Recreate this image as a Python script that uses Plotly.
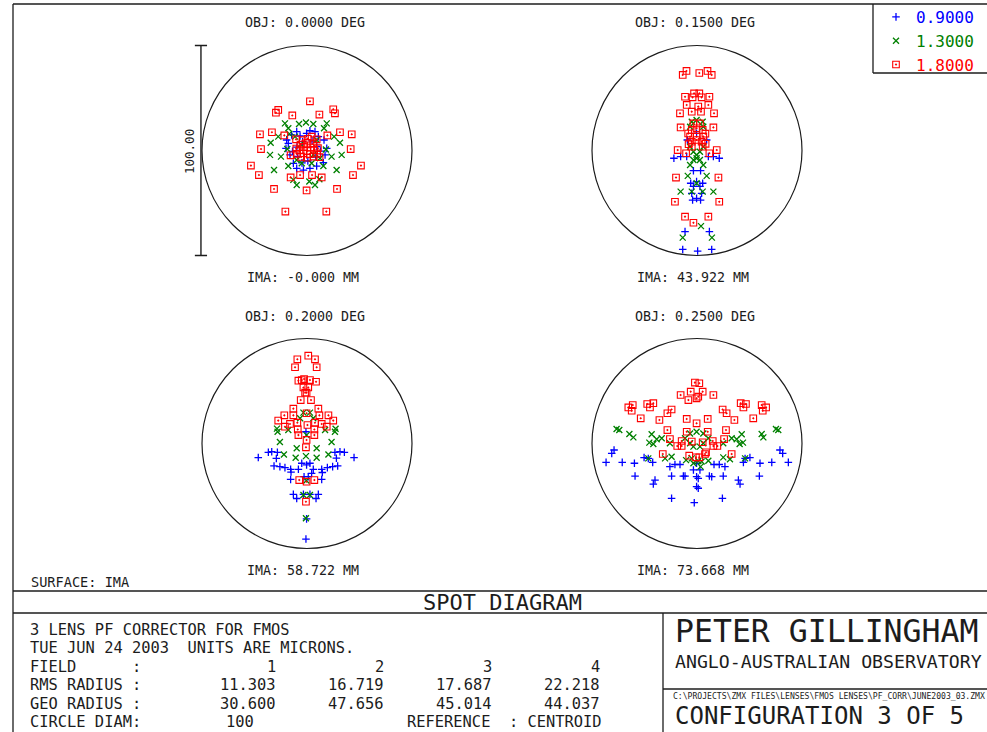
import plotly.graph_objects as go

# ---------------------------------------------------------------- data
WAVELENGTHS = [0.9, 1.3, 1.8]          # microns
FIELD_ANGLES = [0.0, 0.15, 0.20, 0.25]  # degrees
IMAGE_HEIGHTS = [-0.0, 43.922, 58.722, 73.668]  # mm
FIELD_NUMBERS = [1, 2, 3, 4]
RMS_RADIUS = [11.303, 16.719, 17.687, 22.218]
GEO_RADIUS = [30.600, 47.656, 45.014, 44.037]
CIRCLE_DIAM = 100

# spot positions relative to the centroid, microns (x, y)
f1_blue = [(-4.9, 9.0), (1.4, 9.4), (3.8, 9.0), (-7.3, 7.4), (-9.7, 5.0), (8.1, 5.0), (-10.0, 1.0),
           (9.4, 1.0), (-8.1, -2.1), (8.6, -2.1), (-4.9, -8.5), (-1.7, -9.3), (1.4, -8.5), (4.6, -7.4),
           (7.8, -5.8), (-6.5, -6.1), (5.4, 6.6), (-3.3, 6.9), (-0.2, 8.2), (-8.9, 3.4), (-2.1, 4.2),
           (2.4, 4.6), (-4.8, 1.6), (4.7, 1.9), (-4.5, -2.8), (4.2, -3.1), (0.4, -5.0), (-2.4, -5.9),
           (6.4, -0.3), (-6.9, -0.4)]
f1_green = [(-10.5, 12.9), (-8.9, 10.6), (-3.8, 12.6), (-0.5, 13.3), (3.0, 12.6), (9.4, 12.9), (8.1, 10.6),
            (-13.7, 6.6), (-8.4, 7.9), (12.9, 6.6), (15.7, 3.7), (-17.3, 3.7), (-17.6, -2.1), (-12.4, -2.9),
            (11.7, -2.9), (16.5, -2.1), (-15.7, -9.3), (-8.9, -7.4), (7.8, -7.4), (14.1, -9.3), (-4.9, -16.4),
            (-6.5, -14.0), (1.1, -14.8), (3.8, -16.4), (5.9, -13.7), (-5.7, 6.6), (4.6, 5.0), (-4.9, -4.5),
            (6.2, -3.7), (-2.5, -6.1), (2.2, -6.1), (-9.4, 0.7), (9.0, 0.5), (-3.0, 3.0), (3.0, -2.0)]
f1_red = [(1.4, 23.4), (-13.7, 19.3), (-14.8, 18.0), (-7.0, 16.7), (5.9, 17.1), (12.5, 19.6), (13.3, 17.7),
          (-22.4, 7.7), (-16.7, 8.7), (-10.8, 7.2), (9.7, 7.2), (15.7, 8.7), (21.3, 7.7), (-21.9, 0.7),
          (20.8, 0.7), (-26.7, -7.2), (25.7, -7.2), (-22.9, -11.7), (-7.8, -12.8), (-3.3, -11.7), (2.4, -11.7),
          (7.0, -12.8), (21.9, -11.7), (-15.7, -18.3), (-0.2, -19.0), (14.3, -18.3), (-10.3, -29.1), (9.2, -29.1),
          (-7.8, -2.3), (6.0, -3.2), (-5.2, 5.3), (4.6, 5.3), (2.2, 6.6), (-3.1, 2.8), (0.2, 3.6), (2.9, 3.1),
          (-3.6, 0.2), (0.1, -0.2), (3.4, 0.3), (-2.8, -3.1), (-0.1, -3.4), (3.2, -2.9), (-1.4, 1.6), (1.6, 1.4),
          (-1.6, -1.3), (1.3, -1.7), (-5.1, 0.9), (5.2, 1.1), (-4.9, -1.6), (4.8, -1.4), (0.3, 5.6), (-2.1, 4.9)]

f2_blue = [(-0.2, 8.2), (-4.6, 5.0), (4.6, 5.0), (-11.0, -3.7), (-7.8, -2.9), (-4.9, -2.9), (5.4, -2.9),
           (7.8, -2.9), (10.6, -3.7), (-1.7, -9.6), (1.7, -9.6), (-3.0, -15.6), (-0.2, -14.8), (2.7, -15.6),
           (-1.7, -17.1), (1.4, -17.1), (-2.1, -23.6), (-0.2, -22.8), (1.7, -23.6), (-5.7, -38.6), (5.9, -38.6),
           (-6.8, -47.1), (0.3, -47.9), (7.0, -47.1), (-2.5, -20.4), (2.2, -20.4)]
f2_green = [(-2.5, 13.7), (-0.2, 14.5), (2.7, 13.7), (-3.3, 11.3), (3.0, 11.3), (-3.3, 1.8), (3.0, 1.8),
            (-1.7, -0.6), (1.4, -0.6), (-0.2, -3.7), (-1.7, -4.5), (1.4, -4.5), (-3.3, -6.9), (3.0, -6.9),
            (-0.2, -2.1), (-4.4, -12.1), (4.6, -12.1), (-7.8, -19.6), (-2.5, -19.6), (2.7, -19.6), (7.8, -19.6),
            (1.9, -36.0), (-6.8, -41.5), (7.1, -41.5), (-0.2, -15.6)]
f2_red = [(-6.8, 36.0), (-5.0, 37.9), (1.1, 36.9), (5.0, 37.9), (7.0, 36.0), (-5.7, 25.6), (-1.4, 27.2),
          (1.1, 27.2), (-2.1, 25.3), (2.2, 25.3), (5.9, 25.6), (-4.9, 21.7), (0.6, 20.9), (5.4, 21.7),
          (-8.1, 17.7), (-2.5, 18.5), (1.9, 18.5), (8.1, 17.7), (-7.8, 11.0), (7.8, 11.0), (-1.7, 12.9),
          (1.4, 12.9), (-2.5, 9.8), (-0.2, 10.6), (2.7, 9.8), (-3.3, 6.6), (-0.2, 6.6), (3.0, 6.6), (-2.5, 4.2),
          (-0.2, 5.0), (2.2, 4.2), (-2.5, 1.8), (2.7, 1.8), (-9.2, 0.2), (9.4, 0.2), (-5.2, -1.3), (5.9, -1.3),
          (-10.0, -12.9), (10.2, -12.9), (-10.5, -24.4), (10.6, -24.4), (-5.7, -31.5), (5.4, -31.5),
          (-1.7, -34.4), (-4.2, 8.1), (4.0, 8.0), (-4.0, 3.0), (4.1, 3.2)]

f3_blue = [(-23.2, -6.7), (22.4, -6.7), (-18.4, -4.2), (-16.8, -3.9), (-14.1, -4.2), (13.3, -4.2), (15.7, -3.9),
           (17.8, -4.2), (-15.7, -10.7), (-12.9, -11.0), (-10.5, -11.5), (-7.8, -12.3), (-4.1, -12.3),
           (-0.2, -10.2), (3.0, -12.3), (7.0, -12.3), (9.7, -11.5), (12.2, -11.0), (14.6, -10.7), (-7.8, -17.1),
           (-1.4, -15.8), (0.6, -15.8), (7.0, -17.1), (-6.5, -24.2), (-4.9, -26.2), (-1.7, -24.2), (1.4, -24.2),
           (5.4, -24.2), (4.3, -26.2), (-0.2, -35.9), (-0.5, -45.5), (-0.5, 5.6), (-2.5, -9.4), (1.4, -9.4),
           (2.2, -14.2), (-14.6, -7.1), (14.0, -7.0), (-7.6, -13.6), (7.3, -13.8)]
f3_green = [(-1.7, 14.7), (1.4, 14.7), (-3.3, 12.0), (3.0, 12.0), (-14.0, 5.6), (13.3, 5.6), (-8.9, 6.4),
            (8.6, 6.4), (-12.9, 0.7), (11.7, 0.7), (-11.0, -5.2), (10.2, -5.2), (-5.4, -6.8), (-0.5, -6.0),
            (4.6, -6.8), (-1.7, -24.5), (1.4, -24.5), (-0.5, -35.6), (-4.9, -2.3), (4.6, -2.3), (-0.2, 4.0),
            (-14.3, 7.1), (13.6, 7.0), (-0.3, -17.6)]
f3_red = [(-4.6, 40.1), (0.6, 41.8), (3.8, 40.1), (-5.7, 36.3), (4.6, 36.3), (-4.1, 29.9), (-1.4, 30.7),
          (1.4, 30.2), (4.3, 29.4), (-2.5, 30.2), (-1.7, 26.7), (0.6, 26.7), (-0.9, 24.2), (-0.2, 24.2),
          (-3.0, 20.7), (1.9, 20.7), (-6.5, 16.6), (5.4, 16.6), (-10.8, 13.4), (-6.5, 13.4), (5.9, 13.4),
          (10.2, 13.4), (-13.7, 10.9), (-10.5, 8.0), (-8.1, 9.3), (-4.6, 9.9), (3.8, 9.9), (7.0, 9.3), (9.4, 8.0),
          (12.5, 10.9), (-0.2, 14.4), (0.2, 8.8), (-4.4, 6.7), (3.5, 6.7), (-4.1, 4.0), (3.5, 4.0), (-0.2, 1.7),
          (-0.5, -1.8), (-3.7, -17.4), (-0.2, -18.2), (3.5, -17.4), (-0.5, -27.7)]

f4_blue = [(-39.5, -3.1), (-40.6, -4.7), (39.5, -3.1), (40.8, -4.7), (-43.3, -9.0), (-35.6, -9.0), (-29.8, -9.4),
           (-25.2, -6.7), (-23.2, -7.1), (-21.1, -9.0), (43.5, -9.0), (35.6, -9.0), (30.0, -9.4), (25.2, -6.7),
           (22.9, -7.1), (22.1, -9.0), (-12.9, -11.0), (-10.5, -10.0), (-8.1, -10.0), (8.1, -10.0), (10.6, -10.0),
           (13.3, -11.0), (-29.5, -15.5), (-20.0, -17.4), (-20.8, -19.3), (-12.1, -15.5), (-6.5, -15.5),
           (-5.7, -15.5), (-0.2, -15.8), (0.6, -16.6), (5.9, -15.5), (7.0, -15.8), (12.5, -15.5), (19.7, -17.4),
           (20.5, -19.3), (29.7, -15.5), (-0.2, -20.5), (0.6, -21.3), (-12.1, -26.1), (-1.3, -28.2), (12.1, -26.1),
           (-1.7, -12.6), (1.4, -12.6), (-0.2, -9.4)]
f4_green = [(-38.3, 6.9), (-37.0, 6.4), (-32.2, 4.5), (-30.3, 2.9), (37.6, 6.9), (38.7, 6.4), (30.8, 4.5),
            (31.6, 2.9), (-21.6, 4.4), (-22.7, 0.4), (-20.8, -0.2), (-19.2, 2.0), (-16.8, 2.5), (-12.9, 0.1),
            (21.3, 4.4), (21.9, 0.4), (20.3, -0.2), (18.9, 2.0), (16.5, 2.5), (12.5, 0.1), (-5.7, 2.5), (-3.3, 4.8),
            (-0.2, 5.6), (3.0, 4.8), (5.4, 2.5), (-1.7, -1.5), (1.4, -1.5), (-3.3, 0.1), (3.0, 0.1), (-15.2, -7.1),
            (-12.1, -6.3), (-5.2, -7.9), (0.6, -8.3), (5.4, -8.2), (12.5, -6.6), (15.7, -7.5), (-1.7, -9.4),
            (1.7, -11.0), (2.2, -8.6), (-2.5, -7.1), (-23.2, -7.1), (22.9, -7.1)]
f4_red = [(-1.0, 29.0), (1.1, 28.7), (-0.2, 21.5), (0.6, 22.3), (-7.8, 23.1), (-3.0, 24.7), (2.7, 24.7),
          (7.8, 23.1), (-4.1, 20.7), (-32.7, 17.2), (-30.6, 18.3), (-31.1, 15.6), (-23.7, 18.8), (-20.8, 19.2),
          (-22.4, 17.2), (-12.1, 16.2), (-14.1, 14.4), (12.2, 16.2), (14.1, 14.4), (20.8, 19.2), (23.3, 18.8),
          (22.1, 17.2), (30.8, 18.3), (32.9, 17.2), (31.3, 15.6), (-26.8, 12.0), (-17.9, 11.2), (-4.9, 11.7),
          (-0.2, 9.6), (5.1, 11.7), (17.8, 11.2), (26.8, 12.0), (-14.1, 6.4), (-4.9, 5.6), (5.1, 5.6), (13.8, 6.4),
          (-12.9, 2.1), (-7.3, 1.2), (-9.4, -1.2), (-7.3, -1.2), (-2.5, 0.9), (2.7, 0.6), (7.5, 1.2), (7.8, -1.2),
          (9.7, -1.2), (12.9, 2.1), (-16.3, -5.0), (-3.7, -5.8), (-0.5, -6.6), (1.1, -6.6), (3.8, -5.0),
          (4.3, -4.2), (16.5, -5.0)]

SPOTS = [
    [f1_blue, f1_green, f1_red],
    [f2_blue, f2_green, f2_red],
    [f3_blue, f3_green, f3_red],
    [f4_blue, f4_green, f4_red],
]

# ---------------------------------------------------------------- style
W, H = 987, 732
MONO = "DejaVu Sans Mono"
INK = "#1c1c1c"
COLORS = ["#0000ff", "#008000", "#ff0000"]
SYMBOLS = ["cross-thin", "x-thin", "square-open-dot"]
SIZES = [5.4, 6.0, 6.6]
LINE_W = [1.3, 1.3, 1.1]
PX_PER_UM = 2.1
PANEL_CENTERS = [(307, 150.5), (697, 150.5), (307, 443.5), (697, 443.5)]
HALF_PX = 120
R_UM = HALF_PX / PX_PER_UM


def px(x):
    return x / W


def py(y):
    return 1 - y / H


fig = go.Figure()
shapes = []
annotations = []

for i, (cx, cy) in enumerate(PANEL_CENTERS):
    n = "" if i == 0 else str(i + 1)
    fig.update_layout(**{
        f"xaxis{n}": dict(domain=[px(cx - HALF_PX), px(cx + HALF_PX)], range=[-R_UM, R_UM],
                          visible=False, fixedrange=True, anchor=f"y{n}"),
        f"yaxis{n}": dict(domain=[py(cy + HALF_PX), py(cy - HALF_PX)], range=[-R_UM, R_UM],
                          visible=False, fixedrange=True, anchor=f"x{n}"),
    })
    for w, pts in enumerate(SPOTS[i]):
        fig.add_trace(go.Scatter(
            x=[p[0] for p in pts], y=[p[1] for p in pts], mode="markers",
            xaxis=f"x{n}", yaxis=f"y{n}",
            name=f'<span style="color:{COLORS[w]}">{WAVELENGTHS[w]:.4f}</span>',
            legendgroup=str(w), showlegend=(i == 0), hoverinfo="skip",
            marker=dict(symbol=SYMBOLS[w], size=SIZES[w], color=COLORS[w],
                        line=dict(color=COLORS[w], width=LINE_W[w])),
        ))
    # reference circle
    r = CIRCLE_DIAM / 2
    shapes.append(dict(type="circle", xref=f"x{n}", yref=f"y{n}", x0=-r, y0=-r, x1=r, y1=r,
                       line=dict(color=INK, width=1.2)))
    # field labels
    annotations.append(dict(x=px(cx - 64), y=py(cy - 127.5), xref="paper", yref="paper",
                            xanchor="left", yanchor="middle", showarrow=False,
                            text=f"OBJ: {FIELD_ANGLES[i]:.4f} DEG",
                            font=dict(family=MONO, size=13.3, color=INK)))
    annotations.append(dict(x=px(cx - 62), y=py(cy + 126.5), xref="paper", yref="paper",
                            xanchor="left", yanchor="middle", showarrow=False,
                            text=f"IMA: {IMAGE_HEIGHTS[i]:.3f} MM",
                            font=dict(family=MONO, size=13.3, color=INK)))

# scale bar beside the first panel
r = CIRCLE_DIAM / 2
bar_x = -r - 0.5
shapes += [
    dict(type="line", xref="x", yref="y", x0=bar_x, x1=bar_x, y0=-r, y1=r, line=dict(color=INK, width=1.4)),
    dict(type="line", xref="x", yref="y", x0=bar_x - 2.9, x1=bar_x + 2.9, y0=r, y1=r, line=dict(color=INK, width=1.4)),
    dict(type="line", xref="x", yref="y", x0=bar_x - 2.9, x1=bar_x + 2.9, y0=-r, y1=-r, line=dict(color=INK, width=1.4)),
]
annotations.append(dict(x=px(189), y=py(152), xref="paper", yref="paper", showarrow=False,
                        xanchor="center", yanchor="middle",
                        text=f"{CIRCLE_DIAM:.2f}", textangle=-90,
                        font=dict(family=MONO, size=12.5, color=INK)))


# page frame
def hline(y, x0, x1):
    return dict(type="line", xref="paper", yref="paper", x0=px(x0), x1=px(x1), y0=py(y), y1=py(y),
                line=dict(color=INK, width=1.3))


def vline(x, y0, y1):
    return dict(type="line", xref="paper", yref="paper", x0=px(x), x1=px(x), y0=py(y0), y1=py(y1),
                line=dict(color=INK, width=1.3))


shapes += [
    hline(4, 13, 987), vline(13, 4, 732),
    hline(591, 13, 987), hline(613, 13, 987),
    vline(663, 613, 732), hline(689, 663, 987),
    vline(873, 4, 73), hline(73, 873, 987),
]


def text(x, y, s, size, anchor="left", yanchor="middle"):
    annotations.append(dict(x=px(x), y=py(y), xref="paper", yref="paper", showarrow=False,
                            xanchor=anchor, yanchor=yanchor, text=s.replace(" ", "\u00a0"),
                            font=dict(family=MONO, size=size, color=INK)))


text(29, 582, "SURFACE: IMA", 13.6)
text(502, 602, "SPOT DIAGRAM", 22, anchor="center")

TS = 15.4
ROWS = [630, 648, 666.5, 685, 703.5, 721.5]
text(28, ROWS[0], "3 LENS PF CORRECTOR FOR FMOS", TS)
text(28, ROWS[1], "TUE JUN 24 2003  UNITS ARE MICRONS.", TS)
text(28, ROWS[2], "FIELD      :", TS)
text(28, ROWS[3], "RMS RADIUS :", TS)
text(28, ROWS[4], "GEO RADIUS :", TS)
text(28, ROWS[5], "CIRCLE DIAM:", TS)
COL_RIGHT = [278, 386, 494, 602]
for k in range(4):
    text(COL_RIGHT[k], ROWS[2], f"{FIELD_NUMBERS[k]}", TS, anchor="right")
    text(COL_RIGHT[k], ROWS[3], f"{RMS_RADIUS[k]:.3f}", TS, anchor="right")
    text(COL_RIGHT[k], ROWS[4], f"{GEO_RADIUS[k]:.3f}", TS, anchor="right")
text(224, ROWS[5], f"{CIRCLE_DIAM}", TS)
text(604, ROWS[5], "REFERENCE  : CENTROID", TS, anchor="right")

text(673, 631, "PETER GILLINGHAM", 31.5)
text(673, 661, "ANGLO-AUSTRALIAN OBSERVATORY", 18.2)
text(671, 696, "C:\\PROJECTS\\ZMX FILES\\LENSES\\FMOS LENSES\\PF_CORR\\JUNE2003_03.ZMX", 8.1)
text(673, 732, "CONFIGURATION 3 OF 5", 24, yanchor="bottom")

fig.update_layout(
    width=W, height=H, autosize=False,
    margin=dict(l=0, r=0, t=0, b=0),
    paper_bgcolor="white", plot_bgcolor="white",
    shapes=shapes, annotations=annotations,
    showlegend=True,
    legend=dict(x=px(876), y=1, xanchor="left", yanchor="top",
                bgcolor="rgba(0,0,0,0)", borderwidth=0, tracegroupgap=0,
                font=dict(family=MONO, size=16), itemwidth=30),
)

fig.write_html("out.html")
